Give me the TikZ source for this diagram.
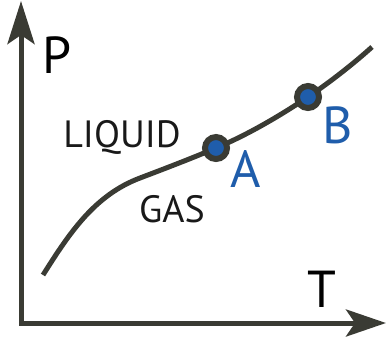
\documentclass[tikz,border=0pt]{standalone}
\usepackage{fontspec}
\setmainfont{PT Sans}
\usepackage{tikz}
\usetikzlibrary{arrows.meta}
\definecolor{curvegrey}{RGB}{58,59,52}
\definecolor{stateblue}{RGB}{31,93,171}
\tikzset{
  statept/.style={circle, draw=curvegrey, fill=stateblue, line width=6pt,
    minimum size=22pt, inner sep=0pt},
  biglabel/.style={font=\fontsize{52}{52}\selectfont},
  phaselabel/.style={font=\fontsize{38}{38}\selectfont, text=black!90},
}
\begin{document}
\begin{tikzpicture}[x=1pt, y=-1pt]
  \useasboundingbox (0,0) rectangle (387,341);
  % ---- axes ----
  \coordinate (origin) at (21,323);
  \coordinate (ptop) at (21,1);
  \coordinate (tend) at (386,323);
  \draw[curvegrey, line width=5pt, {Stealth[length=43pt,width=27pt,inset=9pt]}-{Stealth[length=40pt,width=27pt,inset=9pt]}]
    (ptop) -- (origin) -- (tend);
  \node[biglabel] (plabel) at (57,55) {P};
  \node[biglabel] (tlabel) at (322,289) {T};
  % ---- coexistence curve ----
  \coordinate (cstart) at (43,275);
  \coordinate (cbend) at (140,178);
  \coordinate (cend) at (372,47);
  \draw[curvegrey, line width=5pt]
    (cstart) .. controls (70,232) and (95,195) .. (cbend)
    .. controls (165,168.5) and (190,159) .. (216,148)
    .. controls (247,135) and (278,117) .. (308,97)
    .. controls (330,82) and (352,65) .. (cend);
  \node[phaselabel] (liquid) at (122,137) {LIQUID};
  \node[phaselabel] (gas) at (172,209) {GAS};
  % ---- states ----
  \node[statept] (ptA) at (216,148) {};
  \node[statept] (ptB) at (308,97) {};
  \node[biglabel, text=stateblue] (labA) at (246,169) {A};
  \node[biglabel, text=stateblue] (labB) at (338,125) {B};
\end{tikzpicture}
\end{document}
